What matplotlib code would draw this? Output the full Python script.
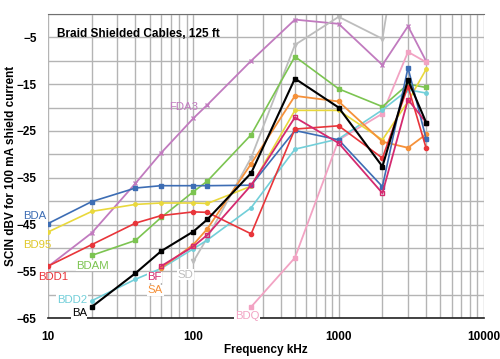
import matplotlib
matplotlib.use('Agg')
import matplotlib.pyplot as plt
import numpy as np

plt.rcParams['font.family'] = ['Liberation Sans', 'DejaVu Sans']

# frequencies in kHz
freq = [10, 20, 40, 60, 100, 125, 250, 500, 1000, 2000, 3000, 4000]

bda = [-44.8, -40.1, -37.2, -36.7, -36.7, -36.7, -36.6, -24.9, -26.9, -36.9, -11.5, -26.7]
bd95 = [-46.6, -42.2, -40.7, -40.4, -40.4, -40.5, -36.8, -20.6, -20.6, -26.9, -18.7, -11.8]
bdd1 = [-53.9, -49.3, -44.7, -43.1, -42.3, -42.4, -47.0, -24.6, -23.9, -30.8, -15.5, -28.7]
fda3 = [-54.0, -46.8, -36.2, -29.7, -22.3, -19.4, -10.0, -1.2, -2.1, -10.9, -2.6, -10.1]

freq_20 = freq[1:]
bdam = [-51.6, -48.4, -43.5, -38.0, -35.7, -25.8, -9.1, -16.0, -19.8, -15.0, -15.7]
bdd2 = [-61.3, -56.7, -54.4, -50.2, -48.3, -41.4, -28.9, -26.7, -20.5, -16.2, -16.9]
ba = [-62.6, -55.4, -50.7, -46.5, -43.9, -34.0, -13.8, -20.0, -32.6, -14.1, -23.2]

freq_60 = [60, 100, 125, 250, 500, 1000, 2000, 3000, 4000]
sa = [-54.3, -49.3, -45.9, -32.0, -17.5, -18.7, -27.3, -28.6, -25.7]
bf = [-53.9, -49.7, -47.2, -36.6, -22.1, -27.6, -38.3, -18.3, -23.2]

freq_sd = [100, 125, 250, 500, 1000, 2000, 3000]
sd = [-52.9, -47.8, -30.7, -6.6, -0.6, -5.3, 28.0]

freq_bdq = [250, 500, 1000, 2000, 3000, 4000]
bdq = [-62.6, -52.1, -26.9, -21.3, -8.1, -10.3]

fig = plt.figure(figsize=(5.0, 3.59), dpi=100)
ax = fig.add_axes([0.096, 0.114, 0.872, 0.847])

ax.set_xscale('log')
ax.set_xlim(10, 10000)
ax.set_ylim(-65, 0)

ax.set_yticks(np.arange(-65, 0, 10))
ax.set_yticks(np.arange(-65, 1, 5), minor=True)
ax.set_xticks([10, 100, 1000, 10000])
ax.set_xticklabels(['10', '100', '1000', '10000'])
ax.grid(True, which='both', color='#b4b4b4', lw=1.0)
ax.tick_params(which='both', length=0)
ax.tick_params(axis='y', labelsize=8.5, pad=8)
ax.tick_params(axis='x', labelsize=8.5, pad=9)
for lab in ax.get_xticklabels() + ax.get_yticklabels():
    lab.set_fontweight('bold')

for side in ['left', 'right']:
    ax.spines[side].set_visible(False)
ax.spines['top'].set_color('#707070')
ax.spines['bottom'].set_color('#222222')
ax.spines['bottom'].set_linewidth(1.2)

ax.plot(freq, fda3, color='#c17bbf', lw=1.3, marker='x', ms=3)
ax.plot(freq_sd, sd, color='#bdbdbd', lw=1.3, marker='v', ms=3)
ax.plot(freq_bdq, bdq, color='#f2a3c3', lw=1.3, marker='s', ms=3)
ax.plot(freq_20, bdam, color='#7cc451', lw=1.2, marker='s', ms=3)
ax.plot(freq_20, bdd2, color='#72cfd9', lw=1.2, marker='o', ms=2.5)
ax.plot(freq, bd95, color='#e9d83c', lw=1.2, marker='o', ms=2.5)
ax.plot(freq_60, sa, color='#f5913a', lw=1.3, marker='o', ms=3)
ax.plot(freq, bda, color='#3d6db4', lw=1.2, marker='s', ms=3)
ax.plot(freq, bdd1, color='#e8353a', lw=1.2, marker='o', ms=3)
ax.plot(freq_60, bf, color='#d42a6f', lw=1.3, marker='s', ms=3.5, mfc='none')
ax.plot(freq_20, ba, color='black', lw=1.5, marker='s', ms=3)

labels = [
    ('BDA', 8.1, -43.1, '#3d6db4', False),
    ('BD95', 8.4, -49.4, '#e0c82a', False),
    ('BDD1', 10.8, -56.2, '#e8353a', False),
    ('BDAM', 20.3, -53.8, '#7cc451', True),
    ('BDD2', 14.6, -61.1, '#72cfd9', True),
    ('BA', 16.4, -64.0, 'black', True),
    ('BF', 54, -56.3, '#d42a6f', True),
    ('SA', 55, -59.1, '#f5913a', True),
    ('SD', 88, -55.7, '#bdbdbd', True),
    ('BDQ', 234, -64.6, '#f2a3c3', True),
    ('FDA3', 86, -19.8, '#c17bbf', False),
]
for txt, x, y, c, boxed in labels:
    box = dict(facecolor='white', edgecolor='none', pad=0.5) if boxed else None
    ax.text(x, y, txt, color=c, fontsize=8.2, ha='center', va='center',
            bbox=box, clip_on=False)

ax.text(11.5, -4.3, 'Braid Shielded Cables, 125 ft', fontsize=8.5,
        fontweight='bold', ha='left', va='center')

ax.set_xlabel('Frequency kHz', fontsize=8.5, fontweight='bold', labelpad=1)
ax.set_ylabel('SCIN dBV for 100 mA shield current', fontsize=8.5,
              fontweight='bold', labelpad=0)

fig.savefig('out.png', dpi=100)
